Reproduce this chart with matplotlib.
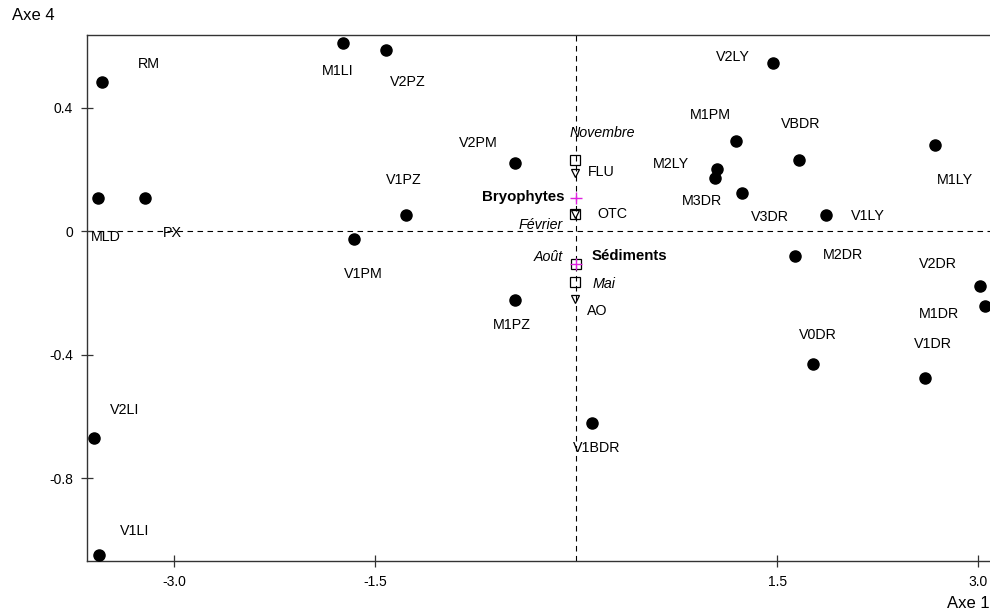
import matplotlib.pyplot as plt

plt.rcParams['font.family'] = ['Liberation Sans', 'DejaVu Sans']

# --- stations (points noirs) ---
sites = ['RM', 'MLD', 'PX', 'M1LI', 'V2PZ', 'V1PZ', 'V1PM', 'V2LI', 'V1LI',
         'V2PM', 'M1PZ', 'V1BDR', 'V2LY', 'M1PM', 'VBDR', 'M2LY', 'M3DR',
         'V3DR', 'V1LY', 'M1LY', 'M2DR', 'V2DR', 'M1DR', 'V0DR', 'V1DR']
site_x = [-3.54, -3.57, -3.22, -1.74, -1.42, -1.27, -1.66, -3.60, -3.56,
          -0.455, -0.455, 0.12, 1.47, 1.19, 1.66, 1.047, 1.035,
          1.24, 1.866, 2.68, 1.63, 3.015, 3.05, 1.77, 2.60]
site_y = [0.482, 0.107, 0.107, 0.611, 0.587, 0.052, -0.026, -0.670, -1.05,
          0.220, -0.224, -0.622, 0.546, 0.291, 0.232, 0.202, 0.172,
          0.125, 0.054, 0.278, -0.079, -0.176, -0.243, -0.429, -0.476]

# --- saisons (carrés) ---
months = ['Novembre', 'Février', 'Août', 'Mai']
month_x = [-0.009, -0.009, -0.005, -0.009]
month_y = [0.232, 0.055, -0.107, -0.164]

# --- variables (triangles) ---
vars_ = ['FLU', 'OTC', 'AO']
var_x = [-0.009, -0.009, -0.009]
var_y = [0.187, 0.055, -0.218]

# --- compartiments (croix magenta) ---
comps = ['Bryophytes', 'Sédiments']
comp_x = [0.0, 0.0]
comp_y = [0.106, -0.107]

# décalages des étiquettes (pixels)
site_off = {'RM': (47, 18), 'MLD': (8, -39), 'PX': (28, -35), 'M1LI': (-5, -28),
            'V2PZ': (22, -32), 'V1PZ': (-2, 35), 'V1PM': (10, -35), 'V2LI': (31, 28),
            'V1LI': (36, 24), 'V2PM': (-37, 20), 'M1PZ': (-3, -25), 'V1BDR': (4, -25),
            'V2LY': (-40, 6), 'M1PM': (-25, 26), 'VBDR': (2, 36), 'M2LY': (-46, 5),
            'M3DR': (-13, -23), 'V3DR': (28, -24), 'V1LY': (42, -1), 'M1LY': (19, -35),
            'M2DR': (48, 1), 'V2DR': (-42, 22), 'M1DR': (-46, -8), 'V0DR': (4, 29),
            'V1DR': (8, 34)}
month_off = {'Novembre': (27, 27), 'Février': (-34, -11), 'Août': (-27, 7), 'Mai': (29, -2)}
var_off = {'FLU': (26, 1), 'OTC': (37, 0), 'AO': (22, -12)}
comp_off = {'Bryophytes': (-53, 1), 'Sédiments': (53, 8)}

fig = plt.figure(figsize=(9.9, 6.13), dpi=100)
ax = fig.add_axes([0.0876, 0.0848, 1 - 0.0876, 0.9429 - 0.0848])

ax.axhline(0, color='black', lw=0.8, ls=(0, (5, 4)), zorder=1)
ax.axvline(0, color='black', lw=0.8, ls=(0, (5, 4)), zorder=1)

ax.plot(site_x, site_y, 'o', color='black', ms=8, zorder=3)
ax.plot(month_x, month_y, 's', mfc='none', mec='black', mew=0.9, ms=7, zorder=3)
ax.plot(var_x, var_y, 'v', mfc='none', mec='black', mew=0.9, ms=6, zorder=3)
ax.plot(comp_x, comp_y, '+', color='#e020e0', mew=1.0, ms=8, zorder=4)

for n, x, y in zip(sites, site_x, site_y):
    ax.annotate(n, (x, y), xytext=site_off[n], textcoords='offset pixels',
                ha='center', va='center', fontsize=10.3)
for n, x, y in zip(months, month_x, month_y):
    ax.annotate(n, (x, y), xytext=month_off[n], textcoords='offset pixels',
                ha='center', va='center', fontsize=10.3, style='italic')
for n, x, y in zip(vars_, var_x, var_y):
    ax.annotate(n, (x, y), xytext=var_off[n], textcoords='offset pixels',
                ha='center', va='center', fontsize=10.3)
for n, x, y in zip(comps, comp_x, comp_y):
    ax.annotate(n, (x, y), xytext=comp_off[n], textcoords='offset pixels',
                ha='center', va='center', fontsize=10.8, weight='bold')

ax.set_xlim(-3.652, 3.087)
ax.set_ylim(-1.068, 0.6354)
ax.set_xticks([-3.0, -1.5, 1.5, 3.0])
ax.set_xticklabels(['-3.0', '-1.5', '1.5', '3.0'])
ax.set_yticks([0.4, 0, -0.4, -0.8])
ax.set_yticklabels(['0.4', '0', '-0.4', '-0.8'])
ax.tick_params(direction='inout', length=8, width=0.9, labelsize=10, color='#333333')
ax.tick_params(axis='x', pad=6)
ax.tick_params(axis='y', pad=6)
ax.spines['right'].set_visible(False)
for s in ['left', 'bottom', 'top']:
    ax.spines[s].set_color('#333333')
    ax.spines[s].set_linewidth(1.0)

fig.text(12 / 990, 1 - 16 / 613, 'Axe 4', ha='left', va='center', fontsize=12)
fig.text(947 / 990, 1 - 603 / 613, 'Axe 1', ha='left', va='center', fontsize=12)

fig.savefig('out.png', dpi=100)
